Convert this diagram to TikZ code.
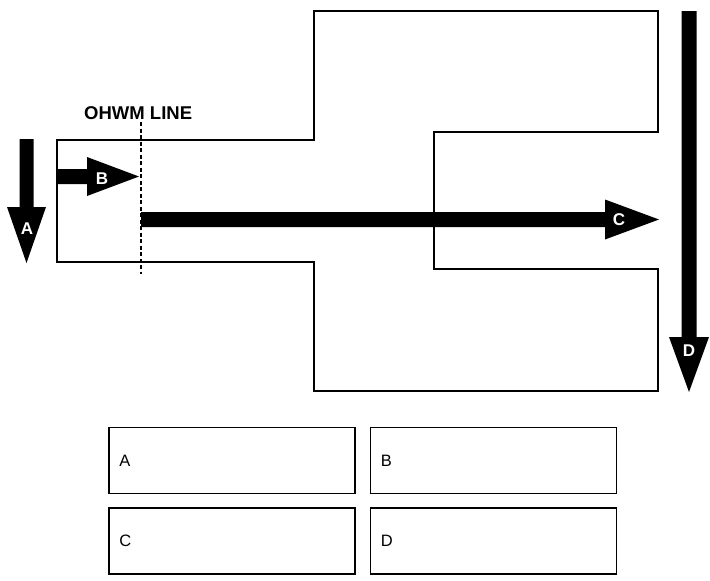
\documentclass[tikz,border=0pt]{standalone}
\usepackage{fontspec}
\setmainfont{Liberation Sans}

\begin{document}
\begin{tikzpicture}[x=1pt, y=-1pt, outline/.style={draw, line width=1.8pt, line join=miter},
    flow/.style={fill=black}, flow label/.style={text=white, inner sep=0pt, font=\fontsize{17}{17}\selectfont\bfseries},
    key box/.style={draw, line width=1.8pt, minimum width=246pt, minimum height=66pt, inner sep=0pt},
    key text/.style={anchor=west, xshift=11pt, inner sep=0pt, font=\fontsize{16.5}{17}\selectfont}]
\useasboundingbox (0,0) rectangle (710,581);
% site outline
\draw[outline] (57,140) -- (314,140) -- (314,11) -- (658,11) -- (658,132) -- (434,132)
    -- (434,269) -- (658,269) -- (658,391) -- (314,391) -- (314,262) -- (57,262) -- cycle;
% ohwm line
\coordinate (ohwm top) at (141,122);
\coordinate (ohwm bottom) at (141,274);
\draw[line width=1.2pt, dash pattern=on 4pt off 2.5pt] (ohwm top) -- (ohwm bottom);
\node[anchor=base west, inner sep=0pt, font=\fontsize{18.5}{20}\selectfont\bfseries] (ohwm) at (84,119) {OHWM LINE};
% flow arrows
\fill[flow] (19.5,139) -- (33.5,139) -- (33.5,207) -- (46,207) -- (26.5,263) -- (7,207) -- (19.5,207) -- cycle;
\node[flow label] (flowA) at (27,228.5) {A};
\fill[flow] (57,169) -- (87,169) -- (87,157) -- (139,176.5) -- (87,196) -- (87,184) -- (57,184) -- cycle;
\node[flow label] (flowB) at (102,179) {B};
\fill[flow] (141,212) -- (605,212) -- (605,199.5) -- (659,219.5) -- (605,239.5) -- (605,227) -- (141,227) -- cycle;
\node[flow label] (flowC) at (619,220) {C};
\fill[flow] (681.5,11) -- (696.5,11) -- (696.5,337) -- (709,337) -- (689,392) -- (669,337) -- (681.5,337) -- cycle;
\node[flow label] (flowD) at (689,351) {D};
% key
\node[key box, label={[key text]west:A}] (keyA) at (232,460.5) {};
\node[key box, label={[key text]west:B}] (keyB) at (493.5,460.5) {};
\node[key box, label={[key text]west:C}] (keyC) at (232,541) {};
\node[key box, label={[key text]west:D}] (keyD) at (493.5,541) {};
\end{tikzpicture}
\end{document}
